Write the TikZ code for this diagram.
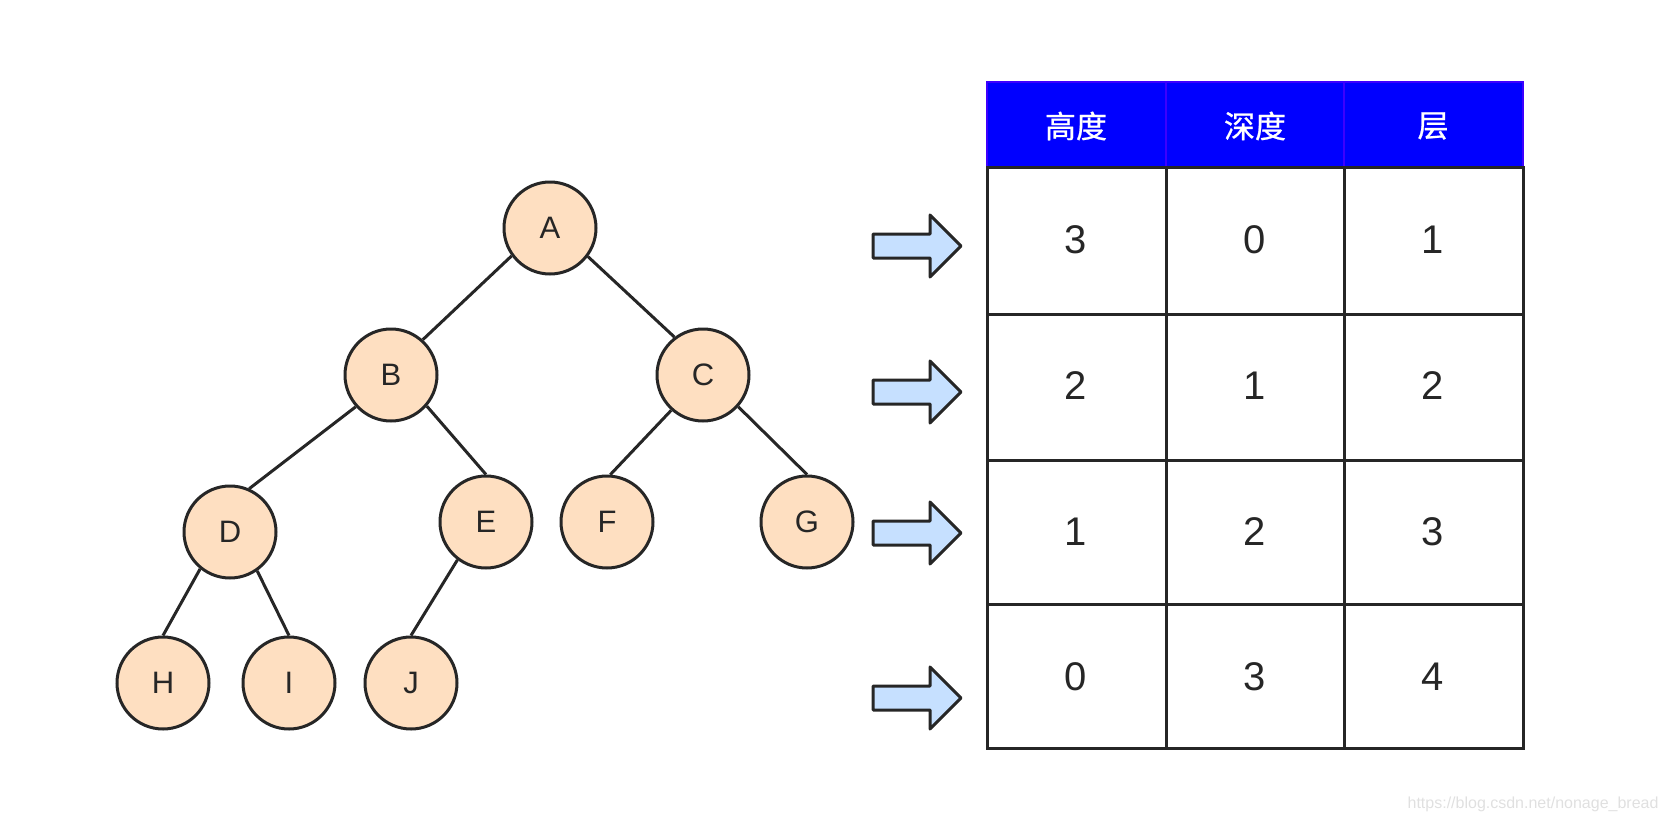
\documentclass[tikz,border=0pt]{standalone}
\usepackage{fontspec}
\setmainfont{Liberation Sans}
\newfontfamily\cjk[UprightFeatures={FakeBold=0.8}]{Noto Sans CJK SC}
\usetikzlibrary{positioning}
\definecolor{peach}{RGB}{254,223,193}
\definecolor{lightblue}{RGB}{198,224,255}
\definecolor{darkline}{RGB}{38,38,38}
\definecolor{headblue}{RGB}{0,0,255}
\definecolor{headline}{RGB}{60,0,255}

\begin{document}
\begin{tikzpicture}[x=1pt,y=-1pt,
		treenode/.style={circle,draw=darkline,line width=3pt,fill=peach,minimum size=92pt,inner sep=0pt,text=darkline,font=\fontsize{31}{31}\selectfont},
		edge/.style={darkline,line width=3pt},
		cell/.style={text=darkline,font=\fontsize{40}{40}\selectfont},
		headcell/.style={text=white,font=\cjk\fontsize{31}{31}\selectfont}]
	\useasboundingbox (0,0) rectangle (1670,822);
	% the tree
	\node[treenode] (A) at (550,228) {A};
	\node[treenode] (B) at (391,375) {B};
	\node[treenode] (C) at (703,375) {C};
	\node[treenode] (D) at (230,532) {D};
	\node[treenode] (E) at (486,522) {E};
	\node[treenode] (F) at (607,522) {F};
	\node[treenode] (G) at (807,522) {G};
	\node[treenode] (H) at (163,683) {H};
	\node[treenode] (I) at (289,683) {I};
	\node[treenode] (J) at (411,683) {J};
	\draw[edge] (A.216)--(B.48);
	\draw[edge] (A.323)--(C.127);
	\draw[edge] (B.222)--(D.66);
	\draw[edge] (B.319)--(E.90);
	\draw[edge] (C.228)--(F.86);
	\draw[edge] (C.318)--(G.90);
	\draw[edge] (D.231)--(H.90);
	\draw[edge] (D.305)--(I.90);
	\draw[edge] (E.233)--(J.90);
	% arrows
	\foreach \y in {246,392,533,698}
		\draw[darkline,line width=3pt,line join=round,fill=lightblue] (873,\y-12)--(930,\y-12)--(930,\y-31)--(961,\y)--(930,\y+31)--(930,\y+12)--(873,\y+12)--cycle;
	% the table
	\fill[headblue] (987,82) rectangle (1523,167);
	\draw[headline,line width=2pt] (987,82) rectangle (1523,167) (1166,82)--(1166,167) (1344,82)--(1344,167);
	\draw[darkline,line width=3pt] (987,167) rectangle (1523,748);
	\foreach \y in {314,460,604}
		\draw[darkline,line width=3pt] (987,\y)--(1523,\y);
	\foreach \x in {1166,1344}
		\draw[darkline,line width=3pt] (\x,167)--(\x,748);
	\node[headcell] (h1) at (1076,126) {高度};
	\node[headcell] (h2) at (1255,126) {深度};
	\node[headcell] (h3) at (1433,126) {层};
	\foreach \y/\a/\b/\c [count=\i] in {240/3/0/1,386/2/1/2,532/1/2/3,677/0/3/4}{
		\node[cell] (r\i a) at (1076,\y) {\a};
		\node[cell] (r\i b) at (1255,\y) {\b};
		\node[cell] (r\i c) at (1433,\y) {\c};
	}
	\node[anchor=east,text=black!12,font=\fontsize{16}{16}\selectfont] (mark) at (1662,804) {https://blog.csdn.net/nonage\_bread};
\end{tikzpicture}
\end{document}
